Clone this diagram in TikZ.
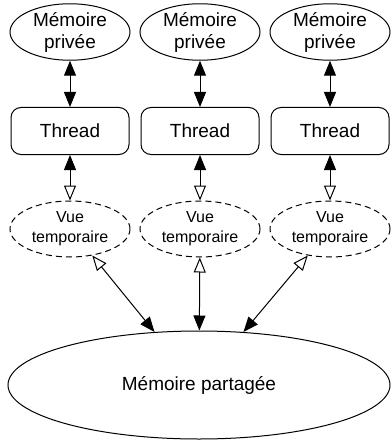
\documentclass[tikz,border=0pt]{standalone}
\usepackage{fontspec}
\setmainfont{Liberation Sans}
\usetikzlibrary{shapes.geometric,arrows.meta}

\tikzset{
    mem/.style={draw, ellipse, line width=1pt, minimum width=120pt, minimum height=56pt,
        inner sep=0pt, align=center, font=\fontsize{19}{22}\selectfont},
    vue/.style={mem, dash pattern=on 6pt off 4pt, minimum height=56pt,
        font=\fontsize{16}{20}\selectfont},
    thr/.style={draw, rectangle, rounded corners=10pt, line width=1pt, minimum width=118pt,
        minimum height=47pt, font=\fontsize{19}{22}\selectfont},
    full/.tip={Triangle[length=15pt, width=12pt]},
    hollow/.tip={Triangle[open, length=15pt, width=12pt]},
    link/.style={line width=1pt},
}

\begin{document}
\begin{tikzpicture}[x=1pt, y=-1pt]
    \useasboundingbox (0,0) rectangle (391,441);
    \foreach \i/\x in {1/70, 2/200, 3/330} {
        \node[mem] (p\i) at (\x, 32) {Mémoire\\privée};
        \node[thr] (t\i) at (\x, 131) {Thread};
        \node[vue] (v\i) at (\x, 229) {Vue\\temporaire};
        \draw[link, full-full] (p\i) -- (t\i);
        \draw[link, full-hollow] (t\i) -- (v\i);
    }
    % shared memory
    \node[mem, minimum width=382pt, minimum height=108pt] (m) at (199, 385) {Mémoire partagée};
    \draw[link, hollow-full] (v1.-50) -- (m.130);
    \draw[link, hollow-full] (v2) -- (m);
    \draw[link, hollow-full] (v3.-130) -- (m.50);
\end{tikzpicture}
\end{document}
